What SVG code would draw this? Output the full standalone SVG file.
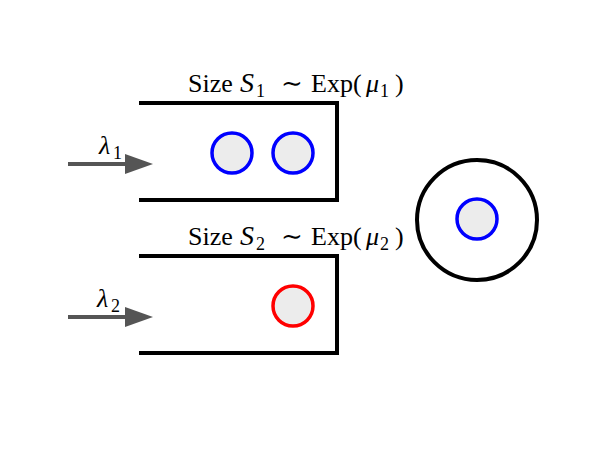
<svg xmlns="http://www.w3.org/2000/svg" width="593" height="452" viewBox="0 0 593 452">
<style>
.wall{fill:none;stroke:#000;stroke-width:4;stroke-linecap:butt;stroke-linejoin:miter}
.job{fill:#ececec;stroke-width:3.5}
.blue{stroke:#0000ff}
.red{stroke:#ff0000}
.arr{stroke:#555;stroke-width:4;fill:none}
.head{fill:#555}
text{font-family:"Liberation Serif","DejaVu Serif",serif;fill:#000;font-size:26px}
.it{font-style:italic}
.sub{font-size:18px}
</style>
<rect width="593" height="452" fill="#fff"/>
<g id="queue1">
<polyline class="wall" points="139,103 337,103 337,200 139,200"/>
<circle class="job blue" cx="232" cy="153" r="20"/>
<circle class="job blue" cx="293" cy="153" r="20"/>
<text x="188" y="92">Size<tspan class="it" x="240" font-size="28">S</tspan><tspan class="sub" x="256" y="97">1</tspan><tspan x="281" y="92">∼</tspan><tspan x="311">Exp(</tspan><tspan class="it" x="366">μ</tspan><tspan class="sub" x="380" y="97">1</tspan><tspan x="395" y="92">)</tspan></text>
</g>
<g id="queue2">
<polyline class="wall" points="139,256 337,256 337,353 139,353"/>
<circle class="job red" cx="293" cy="306" r="20"/>
<text x="188" y="245">Size<tspan class="it" x="240" font-size="28">S</tspan><tspan class="sub" x="256" y="250">2</tspan><tspan x="281" y="245">∼</tspan><tspan x="311">Exp(</tspan><tspan class="it" x="366">μ</tspan><tspan class="sub" x="380" y="250">2</tspan><tspan x="395" y="245">)</tspan></text>
</g>
<g id="server">
<circle cx="477" cy="220" r="60" fill="none" stroke="#000" stroke-width="4"/>
<circle class="job blue" cx="477" cy="219" r="20"/>
</g>
<g id="connectors">
<line class="arr" x1="68" y1="164" x2="127" y2="164"/>
<polygon class="head" points="125,154 153,164 125,174"/>
<text class="it" x="99" y="154">λ<tspan class="sub" x="113" y="159" font-style="normal">1</tspan></text>
<line class="arr" x1="68" y1="317" x2="127" y2="317"/>
<polygon class="head" points="125,307 153,317 125,327"/>
<text class="it" x="97" y="307">λ<tspan class="sub" x="111" y="312" font-style="normal">2</tspan></text>
</g>
</svg>
